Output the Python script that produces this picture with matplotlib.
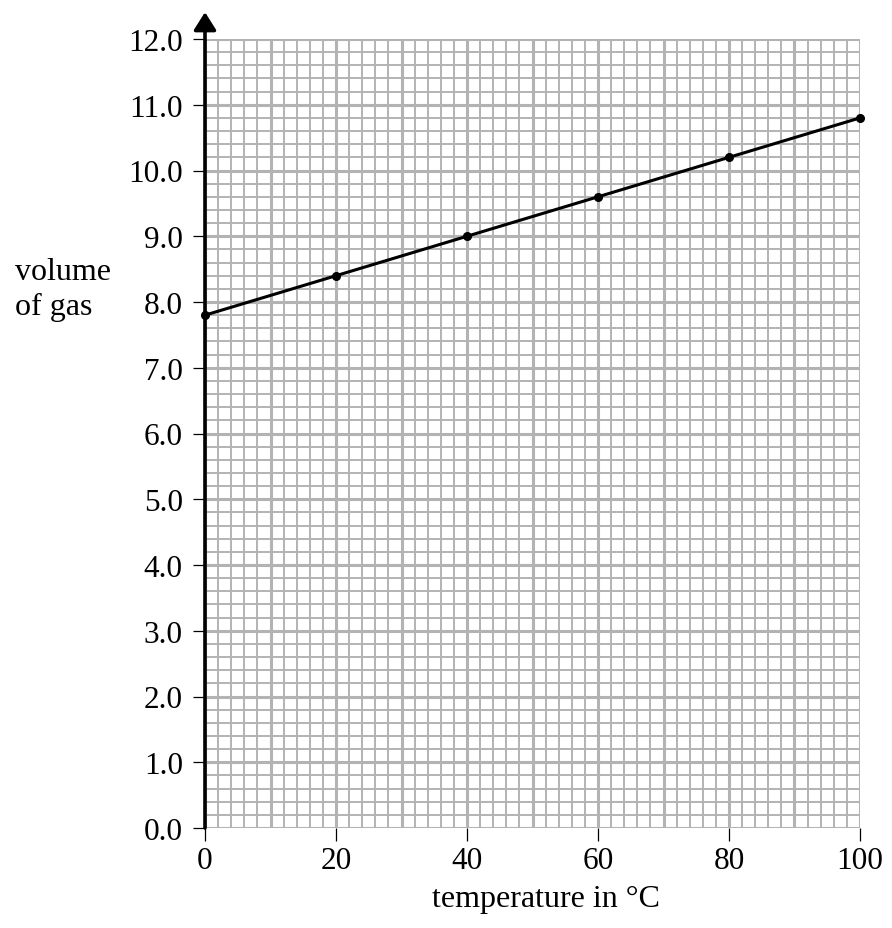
import matplotlib.pyplot as plt

plt.rcParams['font.family'] = ['Liberation Serif', 'DejaVu Serif']

temperature = [0, 20, 40, 60, 80, 100]
volume = [7.8, 8.4, 9.0, 9.6, 10.2, 10.8]
x_ticks = [0, 20, 40, 60, 80, 100]
y_ticks = [0, 1, 2, 3, 4, 5, 6, 7, 8, 9, 10, 11, 12]

fig = plt.figure(figsize=(8.92, 9.29), dpi=100)
ax = fig.add_axes([205 / 892, 1 - 829 / 929, 655 / 892, 789 / 929])

ax.set_xlim(0, 100)
ax.set_ylim(0, 12)

# graph paper grid: thick every 10 / 1.0, thin every 2 / 0.2
grid_col = '#b3b3b3'
for v in range(0, 101, 2):
    ax.axvline(v, color=grid_col, lw=2.2 if v % 10 == 0 else 1.4, zorder=1)
for i in range(0, 61):
    ax.axhline(i * 0.2, color=grid_col, lw=2.2 if i % 5 == 0 else 1.4, zorder=1)

ax.plot(temperature, volume, color='black', lw=2.2, marker='o', ms=5.5, zorder=3, clip_on=False)

for s in ['top', 'right', 'bottom', 'left']:
    ax.spines[s].set_visible(False)

# y axis with arrow on top
ax.annotate('', xy=(0, 1.034), xytext=(0, 0), xycoords='axes fraction',
            arrowprops=dict(arrowstyle='-|>,head_width=0.68,head_length=1.08',
                            color='black', lw=2.6, shrinkA=0, shrinkB=0), zorder=4)

ax.set_xticks(x_ticks)
ax.set_xticklabels([str(t) for t in x_ticks])
ax.set_yticks(y_ticks)
ax.set_yticklabels([f'{t:.1f}' for t in y_ticks])
ax.tick_params(which='major', length=9, width=0.9, labelsize=22.5)
ax.tick_params(axis='y', pad=7)
ax.tick_params(axis='x', pad=4)

fig.text(546 / 892, 1 - 900 / 929, 'temperature in °C', fontsize=23, ha='center', va='center')
fig.text(15 / 892, 1 - 290 / 929, 'volume\nof gas', fontsize=23, va='center', ha='left', linespacing=1.25)

fig.savefig('out.png', dpi=100)
